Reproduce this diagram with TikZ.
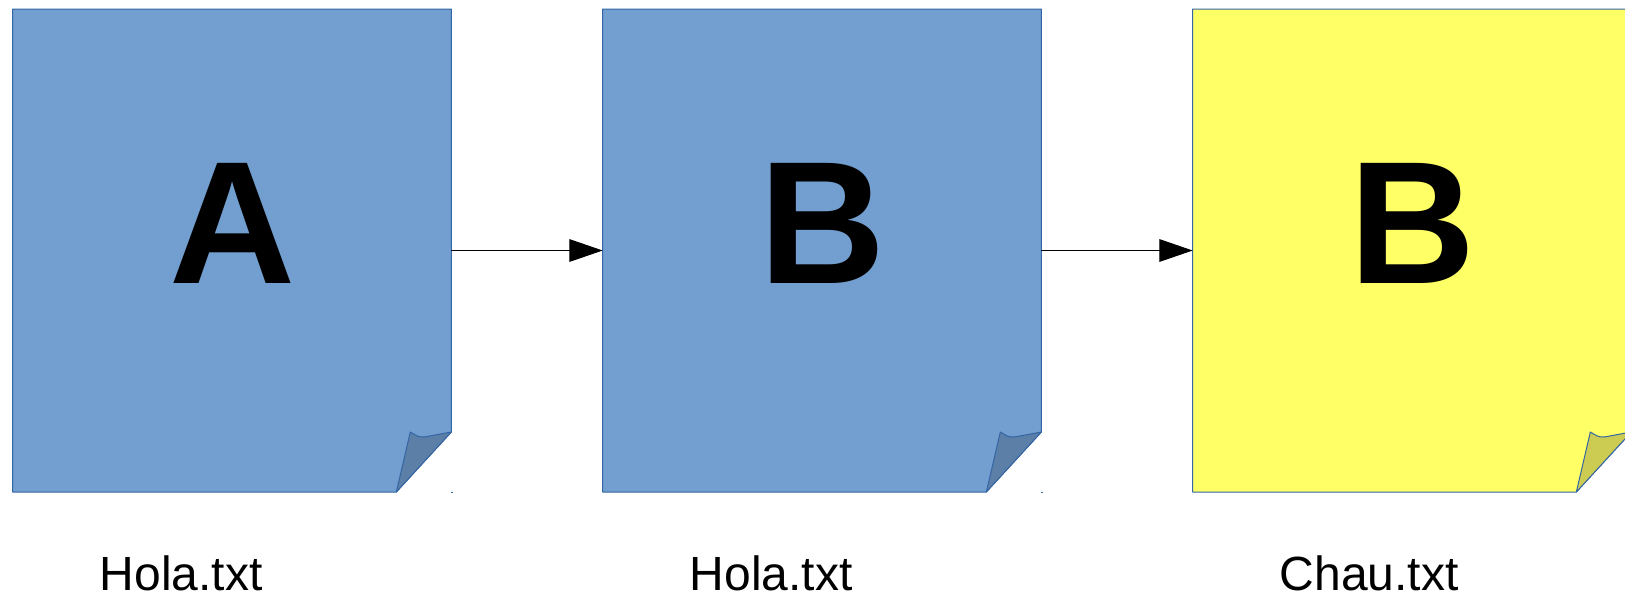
\documentclass[tikz,border=0pt]{standalone}
\usepackage{fontspec}
\setmainfont{Liberation Sans}
\usetikzlibrary{arrows.meta,calc}
\definecolor{pageblue}{HTML}{729FCF}
\definecolor{foldblue}{HTML}{5B7FA6}
\definecolor{pageyellow}{HTML}{FFFF66}
\definecolor{foldyellow}{HTML}{CCCC52}
\definecolor{edgeblue}{HTML}{3465A4}
\tikzset{
  pagebox/.style={minimum width=329pt,minimum height=362.25pt,inner sep=0pt,outer sep=0pt},
  letter/.style={font=\fontsize{131}{131}\selectfont\bfseries,inner sep=0pt},
  filename/.style={font=\fontsize{36}{36}\selectfont,anchor=base west,inner sep=0pt},
  link/.style={draw=black,line width=0.75pt,-{Triangle[length=25pt,width=17pt,sep=0pt]}}
}
\newcommand{\foldedpage}[3]{
\draw[edgeblue,line width=0.75pt,line join=round,fill=#2] (#1.north west) -- (#1.north east) -- ($(#1.south east)+(0,-60)$) -- ($(#1.south east)+(-55,0)$) -- (#1.south west) -- cycle;
\draw[edgeblue,line width=0.75pt,line join=round,fill=#3] ($(#1.south east)+(-55,0)$) -- ($(#1.south east)+(-41,-60)$) .. controls ($(#1.south east)+(-36,-57)$) and ($(#1.south east)+(-33,-54.5)$) .. ($(#1.south east)+(-27,-55)$) -- ($(#1.south east)+(0,-60)$) -- cycle;
\fill[edgeblue] ($(#1.south east)+(0,-0.5)$) rectangle ($(#1.south east)+(1.2,0.5)$);
}
\begin{document}
\begin{tikzpicture}[x=0.75pt,y=-0.75pt]
\useasboundingbox (0,0) rectangle (1625,597);
\clip (0,0) rectangle (1625,597);
\node[pagebox] (pageA) at (232,250.5) {};
\node[pagebox] (pageB) at (822,250.5) {};
\node[pagebox] (pageC) at (1412,250.5) {};
\foldedpage{pageA}{pageblue}{foldblue}
\foldedpage{pageB}{pageblue}{foldblue}
\foldedpage{pageC}{pageyellow}{foldyellow}
\draw[link] (pageA.east) -- (pageB.west);
\draw[link] (pageB.east) -- (pageC.west);
\node[letter] (letterA) at (233,223) {A};
\node[letter] (letterB) at (823,223) {B};
\node[letter] (letterC) at (1413,223) {B};
\node[filename] (nameA) at (99.5,590.5) {Hola.txt};
\node[filename] (nameB) at (689.5,590.5) {Hola.txt};
\node[filename] (nameC) at (1279.5,590.5) {Chau.txt};
\end{tikzpicture}
\end{document}
